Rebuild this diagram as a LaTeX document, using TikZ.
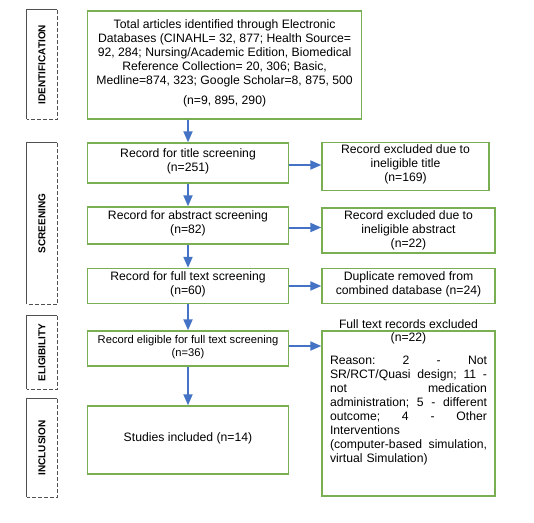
\documentclass[tikz,border=0pt]{standalone}
\usepackage{fontspec}
\setmainfont{Liberation Sans}
\usepackage{graphicx}
\usetikzlibrary{arrows.meta}
\definecolor{boxgreen}{RGB}{122,174,82}
\definecolor{arrblue}{RGB}{68,114,196}
\definecolor{sidegray}{RGB}{80,80,80}
\tikzset{
  gbox/.style={draw=boxgreen, line width=1.4pt, rectangle, inner sep=2pt, align=center,
     font=\fontsize{12.2}{14}\selectfont},
  sidebox/.style={rectangle, inner sep=0pt, font=\fontsize{10}{12}\selectfont\bfseries},
  arr/.style={draw=arrblue, line width=2pt, -{Triangle[length=11pt,width=9pt]}},
  plain/.style={inner sep=0pt, font=\fontsize{12.2}{14}\selectfont}
}
\newcommand{\sideframe}[1]{%
  \draw[sidegray, line width=0.9pt] (#1.south west) -- (#1.north west) -- (#1.north east);
  \draw[sidegray, line width=0.9pt, dash pattern=on 4pt off 2pt] (#1.north east) -- (#1.south east) -- (#1.south west);
}
\newcommand{\jline}[1]{\leavevmode\hbox to 157pt{#1}}
\begin{document}
\begin{tikzpicture}[x=1pt,y=-1pt]
\useasboundingbox (0,0) rectangle (534,522);
\fill[white] (0,0) rectangle (534,522);

% side labels
\node[sidebox, minimum width=30pt, minimum height=109pt] (sid) at (42,64.5) {\rotatebox{90}{IDENTIFICATION}};
\node[sidebox, minimum width=30pt, minimum height=161pt] (sscr) at (42,223.5) {\rotatebox{90}{SCREENING}};
\node[sidebox, minimum width=30pt, minimum height=73pt] (selig) at (42,352.5) {\rotatebox{90}{ELIGIBILITY}};
\node[sidebox, minimum width=30pt, minimum height=98pt] (sincl) at (42,448) {\rotatebox{90}{INCLUSION}};
\sideframe{sid}
\sideframe{sscr}
\sideframe{selig}
\sideframe{sincl}

% main column
\node[gbox, minimum width=274pt, minimum height=108pt] (id) at (224.6,65) {%
Total articles identified through Electronic\\
Databases (CINAHL= 32, 877; Health Source=\\
92, 284; Nursing/Academic Edition, Biomedical\\
Reference Collection= 20, 306; Basic,\\
Medline=874, 323; Google Scholar=8, 875, 500\\[6pt]
(n=9, 895, 290)\\[-8pt]};
\node[gbox, minimum width=201pt, minimum height=40pt] (title) at (188,163) {Record for title screening\\(n=251)\\[-8pt]};
\node[gbox, minimum width=201pt, minimum height=37pt] (abs) at (188,225.5) {Record for abstract screening\\(n=82)\\[-7pt]};
\node[gbox, minimum width=201pt, minimum height=35pt] (full) at (188,286) {Record for full text screening\\(n=60)\\[-8pt]};
\node[gbox, minimum width=201pt, minimum height=35pt, font=\fontsize{11.2}{13}\selectfont] (elig) at (188,348.5) {Record eligible for full text screening\\(n=36)\\[-7pt]};
\node[gbox, minimum width=201pt, minimum height=68pt] (stud) at (188,440) {Studies included (n=14)\\[-8pt]};

% right column
\node[gbox, minimum width=167pt, minimum height=45pt] (ex1) at (405.5,166.5) {Record excluded due to\\ineligible title\\(n=169)\\[-7pt]};
\node[gbox, minimum width=173pt, minimum height=45pt] (ex2) at (408.5,230.5) {Record excluded due to\\ineligible abstract\\(n=22)};
\node[gbox, minimum width=173pt, minimum height=35pt] (dup) at (408.5,286) {Duplicate removed from\\combined database (n=24)\\[-8pt]};
\node[gbox, minimum width=173pt, minimum height=165pt] (fte) at (408.5,413.5) {};
\node[plain, anchor=south] (ftetitle) at ([yshift=1.5pt]fte.north) {Full text records excluded};
\node[plain, anchor=north, text width=157pt, align=left] (ftetext) at ([yshift=-2pt]fte.north) {%
{\centering (n=22)\par}\vspace{9pt}%
\jline{Reason:\hfill 2\hfill -\hfill Not}\\
\jline{SR/RCT/Quasi\hfill design;\hfill 11\hfill -}\\
\jline{not\hfill medication}\\
\jline{administration;\hfill 5\hfill -\hfill different}\\
\jline{outcome;\hfill 4\hfill -\hfill Other}\\
Interventions\\
\jline{(computer-based\hfill simulation,}\\
virtual Simulation)};

% arrows
\draw[arr] (id.south -| title.north) -- (title.north);
\draw[arr] (title) -- (abs);
\draw[arr] (abs) -- (full);
\draw[arr] (full) -- (elig);
\draw[arr] (elig) -- (stud);
\draw[arr] ([yshift=-2pt]title.east) -- ([yshift=-2pt]title.east -| ex1.west);
\draw[arr] ([yshift=-2pt]abs.east) -- ([yshift=-2pt]abs.east -| ex2.west);
\draw[arr] (full.east) -- (full.east -| dup.west);
\draw[arr] ([yshift=2.5pt]elig.east) -- ([yshift=2.5pt]elig.east -| fte.west);
\end{tikzpicture}
\end{document}
